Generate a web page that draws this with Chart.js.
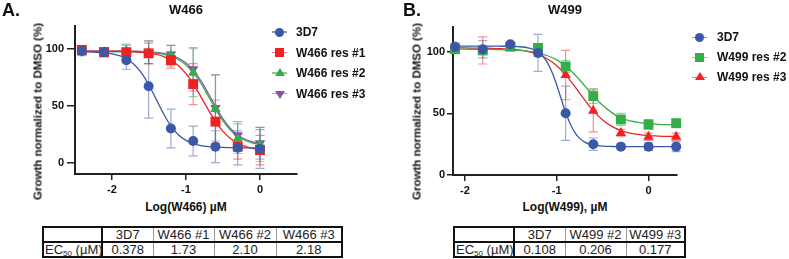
<!DOCTYPE html>
<html>
<head>
<meta charset="utf-8">
<script src="https://cdn.jsdelivr.net/npm/chart.js@4.4.1/dist/chart.umd.min.js"></script>
<style>
  html, body { margin: 0; padding: 0; background: #fff; }
  body { width: 789px; height: 259px; position: relative; overflow: hidden;
         font-family: "Liberation Sans", Arial, Helvetica, sans-serif; color: #111; }
  .abs { position: absolute; white-space: nowrap; }
  canvas.panel { position: absolute; top: 0; }
  .tag { font-size: 18px; font-weight: bold; line-height: 18px; }
  .title { font-size: 13px; font-weight: bold; line-height: 13px; width: 120px; text-align: center; }
  .ytitle { font-size: 11.5px; font-weight: bold; line-height: 13px; width: 220px; height: 13px;
            text-align: center; transform: rotate(-90deg); }
  .xtitle { font-size: 12px; font-weight: bold; line-height: 12px; width: 160px; text-align: center; }
  .legtext { font-size: 12px; font-weight: bold; line-height: 12px; }
  table.ec { position: absolute; border-collapse: collapse; table-layout: fixed;
             border: 2px solid #111; font-size: 13px; color: #222; }
  table.ec td { padding: 0; height: 13px; line-height: 13px; text-align: center;
                border-left: 1px solid #999; white-space: nowrap; overflow: hidden; }
  table.ec td.first { border-right: 2px solid #111; text-align: left; padding-left: 1px; }
  table.ec tr.head td { border-bottom: 2px solid #111; }
  table.ec sub { font-size: 8px; line-height: 0; vertical-align: -2px; }
</style>
</head>
<body>
<canvas id="chartA" class="panel" width="395" height="200" style="left:0px"></canvas>
<canvas id="chartB" class="panel" width="394" height="200" style="left:395px"></canvas>

<div class="abs tag" style="left:2px; top:0.5px">A.</div>
<div class="abs tag" style="left:403px; top:0.5px">B.</div>
<div class="abs title" style="left:126px; top:3px">W466</div>
<div class="abs title" style="left:505px; top:3px">W499</div>
<div class="abs ytitle" style="left:-72px; top:104.5px">Growth normalized to DMSO (%)</div>
<div class="abs ytitle" style="left:307px; top:104.5px">Growth normalized to DMSO (%)</div>
<div class="abs xtitle" style="left:106px; top:201px">Log(W466) µM</div>
<div class="abs xtitle" style="left:485px; top:201px">Log(W499), µM</div>

<script>
// ---- panel A: W466 ----
const doseA = [-2.408, -2.107, -1.806, -1.505, -1.204, -0.903, -0.602, -0.301, 0];
const a3D7 = [98, 97, 90, 67, 30, 19, 14, 13, 12];
const a3D7Sd = [2, 4, 8, 28, 17, 13, 14, 15, 17];
const aRes1 = [99, 97, 97, 96, 90, 69, 36, 14, 11];
const aRes1Sd = [2, 2, 3, 9, 7, 18, 19, 11, 13];
const aRes2 = [97, 97, 98, 97, 94, 79, 47, 21, 16];
const aRes2Sd = [3, 4, 6, 10, 9, 21, 30, 13, 15];
const aRes3 = [98, 98, 98, 97, 95, 82, 48, 24, 17];
const aRes3Sd = [2, 3, 5, 10, 8, 19, 29, 12, 14];

// fitted curves
const fitXA = [-2.4, -2.3, -2.2, -2.1, -2.0, -1.9, -1.8, -1.7, -1.6, -1.5, -1.4, -1.3, -1.2,
               -1.1, -1.0, -0.9, -0.8, -0.7, -0.6, -0.5, -0.4, -0.3, -0.2, -0.1, 0.0];
const fitA3D7 = [97.3, 97.2, 96.9, 96.4, 95.5, 93.9, 91.0, 86.2, 78.6, 68.0, 55.3, 42.5, 31.9,
                 24.3, 19.5, 16.6, 15.0, 14.1, 13.6, 13.3, 13.2, 13.1, 13.0, 13.0, 13.0];
const fitARes1 = [98.0, 98.0, 98.0, 97.9, 97.9, 97.8, 97.6, 97.4, 96.9, 96.2, 95.0, 93.1, 89.9,
                  85.1, 78.2, 69.0, 58.0, 46.5, 36.0, 27.4, 21.2, 17.0, 14.3, 12.6, 11.5];
const fitARes2 = [97.5, 97.5, 97.5, 97.5, 97.4, 97.4, 97.3, 97.2, 97.0, 96.7, 96.1, 95.0, 93.3,
                  90.4, 85.8, 78.9, 69.7, 58.5, 47.0, 36.7, 28.7, 23.1, 19.4, 17.2, 15.9];
const fitARes3 = [98.0, 98.0, 98.0, 98.0, 97.9, 97.9, 97.9, 97.8, 97.6, 97.3, 96.8, 95.9, 94.3,
                  91.7, 87.5, 81.0, 72.0, 60.9, 49.1, 38.4, 30.0, 24.2, 20.5, 18.2, 16.8];

const xTicksA = [-2, -1, 0];
const yTicksA = [0, 50, 100];
const legendA = ["3D7", "W466 res #1", "W466 res #2", "W466 res #3"];
const ecHeadA = ["3D7", "W466 #1", "W466 #2", "W466 #3"];
const ecValA = ["0.378", "1.73", "2.10", "2.18"];

// ---- panel B: W499 ----
const doseB = [-2.107, -1.806, -1.505, -1.204, -0.903, -0.602, -0.301, 0, 0.301];
const b3D7 = [104, 102, 106, 99, 50, 25, 23, 23, 23];
const b3D7Sd = [2, 7, 1, 15, 22, 5, 2, 3, 4];
const bRes2 = [102, 101, 104, 103, 88, 64, 45, 41, 42];
const bRes2Sd = [3, 3, 1, 3, 5, 6, 5, 4, 2];
const bRes3 = [103, 101, 103, 101, 81, 52, 34, 31, 31];
const bRes3Sd = [4, 11, 2, 5, 20, 17, 3, 3, 3];

const fitXB = [-2.1, -2.0, -1.9, -1.8, -1.7, -1.6, -1.5, -1.4, -1.3, -1.2, -1.1, -1.0, -0.9,
               -0.8, -0.7, -0.6, -0.5, -0.4, -0.3, -0.2, -0.1, 0.0, 0.1, 0.2, 0.3];
const fitBRes2 = [102.0, 102.0, 101.9, 101.9, 101.8, 101.7, 101.4, 101.0, 100.2, 98.9, 96.7, 93.3, 88.1,
                  81.1, 72.8, 64.1, 56.5, 50.6, 46.2, 43.8, 42.4, 41.6, 41.1, 40.8, 40.7];
const fitBRes3 = [103.0, 103.0, 102.9, 102.8, 102.7, 102.4, 102.0, 101.2, 99.9, 97.7, 94.1, 88.6, 81.0,
                  71.5, 61.3, 52.0, 44.6, 39.4, 36.0, 33.9, 32.7, 32.0, 31.6, 31.3, 31.2];
const fitXB3D7 = [-2.1, -2.0, -1.9, -1.8, -1.7, -1.6, -1.5, -1.4, -1.3, -1.25, -1.2, -1.15, -1.1,
                  -1.05, -1.0, -0.95, -0.9, -0.85, -0.8, -0.75, -0.7, -0.65, -0.6, -0.5, -0.4,
                  -0.3, -0.2, -0.1, 0.0, 0.1, 0.2, 0.3];
const fitB3D7 = [104.5, 104.5, 104.5, 104.5, 104.5, 104.4, 104.3, 104.0, 102.9, 101.7, 99.7, 96.3, 90.9,
                 83.1, 73.0, 61.4, 50.2, 40.9, 34.1, 29.7, 26.9, 25.2, 24.3, 23.4, 23.1,
                 23.0, 23.0, 23.0, 23.0, 23.0, 23.0, 23.0];

const xTicksB = [-2, -1, 0];
const yTicksB = [0, 50, 100];
const legendB = ["3D7", "W499 res #2", "W499 res #3"];
const ecHeadB = ["3D7", "W499 #2", "W499 #3"];
const ecValB = ["0.108", "0.206", "0.177"];

// ---- styling ----
const BLUE = "#3b57a7", RED = "#ee2222", GREEN = "#35ae49", PURPLE = "#8755a5";
const FONT = "'Liberation Sans', Arial, Helvetica, sans-serif";

function fade(hex, a) {
  const n = parseInt(hex.slice(1), 16);
  return `rgba(${n >> 16},${(n >> 8) & 255},${n & 255},${a})`;
}
const pts = (xs, ys) => xs.map((x, i) => ({ x: x, y: ys[i] }));

function points(xs, ys, sd, color, style, radius, rot) {
  return {
    data: pts(xs, ys), sd: sd, baseColor: color, showLine: false, clip: false,
    pointStyle: style, pointRadius: radius, pointRotation: rot || 0,
    pointBackgroundColor: color, pointBorderColor: color, pointBorderWidth: 0
  };
}
function fit(xs, ys, color) {
  return {
    data: pts(xs, ys), showLine: true, borderColor: color, borderWidth: 1.3,
    pointRadius: 0, cubicInterpolationMode: "monotone", clip: false
  };
}

const errorBars = {
  id: "errorBars",
  beforeDatasetsDraw(chart) {
    const { ctx } = chart;
    const x = chart.scales.x, y = chart.scales.y;
    chart.data.datasets.forEach((ds) => {
      if (!ds.sd) return;
      ctx.save();
      ctx.strokeStyle = fade(ds.baseColor, 0.5);
      ctx.lineWidth = 1.2;
      ds.data.forEach((p, j) => {
        const px = x.getPixelForValue(p.x);
        const top = y.getPixelForValue(p.y + ds.sd[j]);
        const bot = y.getPixelForValue(p.y - ds.sd[j]);
        ctx.beginPath();
        ctx.moveTo(px, top); ctx.lineTo(px, bot);
        ctx.moveTo(px - 4.5, top); ctx.lineTo(px + 4.5, top);
        ctx.moveTo(px - 4.5, bot); ctx.lineTo(px + 4.5, bot);
        ctx.stroke();
      });
      ctx.restore();
    });
  }
};

function axis(min, max, tickVals, fitFn, tickLen, pad) {
  return {
    type: "linear", min: min, max: max,
    afterBuildTicks: (s) => { s.ticks = tickVals.map((v) => ({ value: v })); },
    afterFit: fitFn,
    border: { color: "#222", width: 2 },
    grid: { drawOnChartArea: false, color: "#222", lineWidth: 1.5, tickLength: tickLen },
    ticks: { color: "#111", padding: pad, maxRotation: 0,
             font: { family: FONT, size: 11, weight: "bold" } }
  };
}

function makeChart(id, datasets, xs, ys, padding) {
  new Chart(document.getElementById(id), {
    type: "scatter",
    data: { datasets: datasets },
    options: {
      responsive: false, animation: false,
      layout: { padding: padding },
      plugins: { legend: { display: false }, tooltip: { enabled: false } },
      scales: { x: xs, y: ys }
    },
    plugins: [errorBars]
  });
}

makeChart("chartA", [
  points(doseA, a3D7, a3D7Sd, BLUE, "circle", 5),
  points(doseA, aRes1, aRes1Sd, RED, "rect", 7),
  points(doseA, aRes2, aRes2Sd, GREEN, "triangle", 6),
  points(doseA, aRes3, aRes3Sd, PURPLE, "triangle", 6, 180),
  fit(fitXA, fitA3D7, BLUE),
  fit(fitXA, fitARes1, RED),
  fit(fitXA, fitARes2, GREEN),
  fit(fitXA, fitARes3, PURPLE)
],
  axis(-2.5, 0.5, xTicksA, (s) => { s.height = 26; }, 6, 3),
  axis(-10, 120, yTicksA, (s) => { s.width = 75; }, 8, 3),
  { left: 0, top: 26, right: 98, bottom: 0 });

makeChart("chartB", [
  points(doseB, b3D7, b3D7Sd, BLUE, "circle", 5),
  points(doseB, bRes2, bRes2Sd, GREEN, "rect", 7),
  points(doseB, bRes3, bRes3Sd, RED, "triangle", 6),
  fit(fitXB3D7, fitB3D7, BLUE),
  fit(fitXB, fitBRes2, GREEN),
  fit(fitXB, fitBRes3, RED)
],
  axis(-2.13, 0.31, xTicksB, (s) => { s.height = 25; }, 6, 3),
  axis(0, 120, yTicksB, (s) => { s.width = 58; }, 6, 2),
  { left: 0, top: 27, right: 112, bottom: 0 });

// ---- legends ----
function marker(style, color) {
  const m = document.createElement("div");
  m.className = "abs";
  if (style === "circle") {
    m.style.cssText += `width:9px;height:9px;border-radius:50%;background:${color};left:3px;top:-4.5px`;
  } else if (style === "rect") {
    m.style.cssText += `width:9px;height:9px;background:${color};left:3px;top:-4.5px`;
  } else if (style === "up") {
    m.style.cssText += `width:0;height:0;border-left:5px solid transparent;border-right:5px solid transparent;border-bottom:8px solid ${color};left:2.5px;top:-5px`;
  } else {
    m.style.cssText += `width:0;height:0;border-left:5px solid transparent;border-right:5px solid transparent;border-top:8px solid ${color};left:2.5px;top:-3px`;
  }
  return m;
}
function addLegend(labels, colors, styles, lineX, textX, rows) {
  labels.forEach((lab, i) => {
    const holder = document.createElement("div");
    holder.className = "abs";
    holder.style.cssText += `left:${lineX}px;top:${rows[i]}px;width:0;height:0`;
    const line = document.createElement("div");
    line.className = "abs";
    line.style.cssText += `left:0;top:-0.75px;width:15px;height:1.5px;background:${fade(colors[i], 0.6)}`;
    holder.appendChild(line);
    holder.appendChild(marker(styles[i], colors[i]));
    document.body.appendChild(holder);
    const t = document.createElement("div");
    t.className = "abs legtext";
    t.style.cssText += `left:${textX}px;top:${rows[i] - 6}px`;
    t.textContent = lab;
    document.body.appendChild(t);
  });
}
addLegend(legendA, [BLUE, RED, GREEN, PURPLE], ["circle", "rect", "up", "down"], 272, 296, [32, 52.5, 73, 93.5]);
addLegend(legendB, [BLUE, GREEN, RED], ["circle", "rect", "up"], 692, 717, [37.3, 57.3, 77.3]);

// ---- EC50 tables ----
function addTable(left, top, widths, heads, vals) {
  const tb = document.createElement("table");
  tb.className = "ec";
  tb.style.left = left + "px";
  tb.style.top = top + "px";
  tb.style.width = widths.reduce((a, b) => a + b, 0) + "px";
  const cg = document.createElement("colgroup");
  widths.forEach((w) => { const c = document.createElement("col"); c.style.width = w + "px"; cg.appendChild(c); });
  tb.appendChild(cg);
  const r1 = tb.insertRow(); r1.className = "head";
  const c0 = r1.insertCell(); c0.className = "first";
  heads.forEach((h) => { r1.insertCell().textContent = h; });
  const r2 = tb.insertRow();
  const d0 = r2.insertCell(); d0.className = "first";
  d0.innerHTML = "EC<sub>50</sub> (µM)";
  vals.forEach((v) => { r2.insertCell().textContent = v; });
  document.body.appendChild(tb);
}
addTable(42, 226, [59, 51, 61, 62, 66], ecHeadA, ecValA);
addTable(453, 226, [60, 51, 61, 59], ecHeadB, ecValB);
</script>
</body>
</html>
